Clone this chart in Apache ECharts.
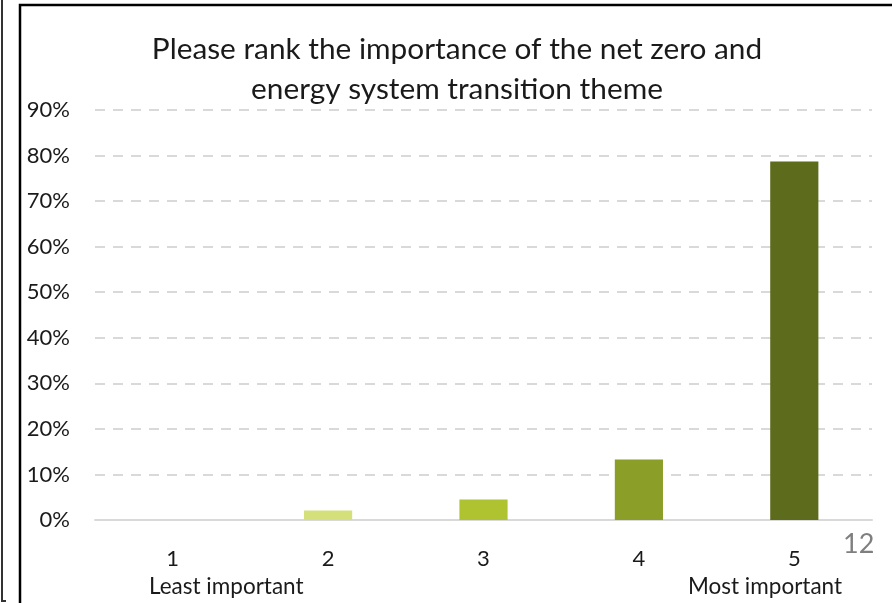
<!DOCTYPE html>
<html><head><meta charset="utf-8">
<script src="https://cdn.jsdelivr.net/npm/echarts@6/dist/echarts.min.js"></script>
<style>html,body{margin:0;padding:0;background:#fff}#c{width:892px;height:603px}</style>
</head><body><div id="c"></div>
<script>
const categories = ['1', '2', '3', '4', '5'];
const values = [0, 2.1, 4.5, 13.3, 78.7];
const barColors = ['#e4edb0', '#d4e17a', '#afc22f', '#8b9e27', '#5d6b1d'];
const yTicks = [0, 10, 20, 30, 40, 50, 60, 70, 80, 90];
const endLabels = ['Least important', 'Most important'];
const titleText = 'Please rank the importance of the net zero and\nenergy system transition theme';
const pageNumber = '12';

const font = 'Lato, sans-serif';
const chart = echarts.init(document.getElementById('c'));
chart.setOption({
  animation: false,
  title: {
    text: titleText, left: 452, top: 24, textAlign: 'center',
    textStyle: { fontFamily: font, fontSize: 29.8, fontWeight: 'normal', color: '#1a1a1a', lineHeight: 40 }
  },
  grid: { left: 95, right: 20, top: 110, bottom: 83 },
  xAxis: {
    type: 'category', data: categories,
    axisLine: { lineStyle: { color: '#d9d9d9', width: 2 } },
    axisTick: { show: false },
    axisLabel: { fontFamily: font, fontSize: 22, color: '#1a1a1a', margin: 28 }
  },
  yAxis: {
    type: 'value', min: 0, max: 90, interval: 10,
    axisLabel: { fontFamily: font, fontSize: 22, color: '#1a1a1a', margin: 25, formatter: v => v + '%' },
    splitLine: { lineStyle: { color: '#d9d9d9', width: 2, type: [10, 8] } },
    axisLine: { show: false }, axisTick: { show: false }
  },
  series: [{
    type: 'bar', barWidth: '31%',
    data: values.map((v, i) => ({ value: v, itemStyle: { color: barColors[i] } }))
  }],
  graphic: [
    { type: 'polyline', shape: { points: [[2, 0], [2, 601], [6, 601]] }, style: { stroke: '#333', lineWidth: 2, fill: null } },
    { type: 'polyline', shape: { points: [[20, 610], [20, 5], [895, 5]] }, style: { stroke: '#000', lineWidth: 2.5, fill: null } },
    { type: 'text', left: 149, top: 575, style: { text: endLabels[0], font: '22.5px ' + font, fill: '#1a1a1a' } },
    { type: 'text', left: 688, top: 575, style: { text: endLabels[1], font: '22.5px ' + font, fill: '#1a1a1a' } },
    { type: 'text', left: 843, top: 531, style: { text: pageNumber, font: '27px ' + font, fill: '#7f7f7f' } }
  ]
});
</script></body></html>
